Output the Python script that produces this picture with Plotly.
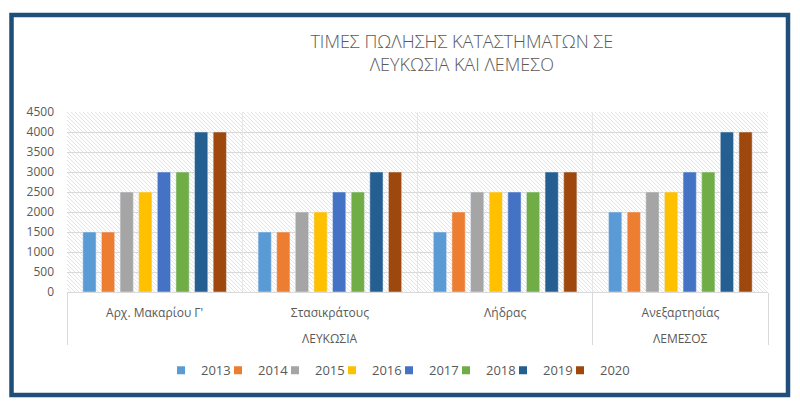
import base64
import plotly.graph_objects as go

# data
regions = ["ΛΕΥΚΩΣΙΑ", "ΛΕΥΚΩΣΙΑ", "ΛΕΥΚΩΣΙΑ", "ΛΕΜΕΣΟΣ"]
streets = ["Αρχ. Μακαρίου Γ'", "Στασικράτους", "Λήδρας", "Ανεξαρτησίας"]
years = ["2013", "2014", "2015", "2016", "2017", "2018", "2019", "2020"]
prices = {
    "2013": [1500, 1500, 1500, 2000],
    "2014": [1500, 1500, 2000, 2000],
    "2015": [2500, 2000, 2500, 2500],
    "2016": [2500, 2000, 2500, 2500],
    "2017": [3000, 2500, 2500, 3000],
    "2018": [3000, 2500, 2500, 3000],
    "2019": [4000, 3000, 3000, 4000],
    "2020": [4000, 3000, 3000, 4000],
}
y_ticks = [0, 500, 1000, 1500, 2000, 2500, 3000, 3500, 4000, 4500]

colors = ["#5B9BD5", "#ED7D31", "#A5A5A5", "#FFC000",
          "#4472C4", "#70AD47", "#255E91", "#9E480E"]
TXT = "#595959"
GRID = "#d9d9d9"
FONT = "Open Sans"

# the page body adds an 8px margin, so the figure is 8px smaller
W, H = 792, 401
ML, MR, MT, MB = 59, 32, 104, 117
pw, ph = W - ML - MR, H - MT - MB

def px(v): return (v - ML) / pw
def py(v): return (H - MB - v) / ph

# region groups: centre of each group and the boundaries between groups
n = len(streets)
groups = []
for i, r in enumerate(regions):
    if not groups or groups[-1][0] != r:
        groups.append([r, []])
    groups[-1][1].append(i)
group_mid = [(g[0], sum(g[1]) / len(g[1])) for g in groups]
group_edges = [g[1][0] - 0.5 for g in groups] + [n - 0.5]
cat_edges = [i + 0.5 for i in range(n - 1)]

# legend: one small legend per year, laid out with a fixed stride
STRIDE = 57
LEG_X = 153
LEG_Y = -0.352

fig = go.Figure()
for i, (yr, col) in enumerate(zip(years, colors)):
    fig.add_trace(go.Bar(x=streets, y=prices[yr], name=yr,
                         marker_color=col, showlegend=False))
    lname = "legend" if i == 0 else "legend%d" % (i + 1)
    fig.add_trace(go.Scatter(x=[None], y=[None], xaxis="x2", mode="markers",
                             marker=dict(symbol="square", size=8, color=col),
                             name=yr, showlegend=True, legend=lname))
    fig.update_layout({lname: dict(
        orientation="h", x=px(LEG_X + i * STRIDE), xanchor="left",
        y=LEG_Y, yanchor="top", font=dict(size=13, color=TXT),
        itemwidth=30, bgcolor="rgba(0,0,0,0)", borderwidth=0)})

# empty trace so that the divider axis gets drawn
fig.add_trace(go.Scatter(x=[None], y=[None], xaxis="x3", showlegend=False,
                         hoverinfo="skip"))

# outer level of the category axis
for name, mid in group_mid:
    fig.add_annotation(text=name, x=mid, xref="x2", y=py(330), yref="paper",
                       yanchor="middle", showarrow=False,
                       font=dict(size=12, color=TXT))

# diagonal hatch behind the bars
svg = ("<svg xmlns='http://www.w3.org/2000/svg' width='701' height='180'>"
       "<defs><pattern id='h' width='4' height='4' patternUnits='userSpaceOnUse'>"
       "<path d='M0,0L4,4M-1,3L1,5M3,-1L5,1' stroke='#e4e4e4' stroke-width='1'/>"
       "</pattern></defs><rect width='701' height='180' fill='url(#h)'/></svg>")
hatch = "data:image/svg+xml;base64," + base64.b64encode(svg.encode()).decode()
fig.add_layout_image(source=hatch, xref="paper", yref="paper", x=0, y=1,
                     sizex=1, sizey=1, sizing="stretch", layer="below",
                     xanchor="left", yanchor="top")

# dark frame round the whole chart
fig.add_shape(type="rect", xref="paper", yref="paper",
              x0=px(3.5), x1=px(780), y0=py(387), y1=py(7),
              line=dict(color="#1F4E79", width=4.5), layer="above")

fig.update_layout(
    width=W, height=H,
    margin=dict(l=ML, r=MR, t=MT, b=MB),
    paper_bgcolor="white", plot_bgcolor="rgba(0,0,0,0)",
    font=dict(family=FONT, color=TXT, size=12),
    title=dict(text="ΤΙΜΕΣ ΠΩΛΗΣΗΣ ΚΑΤΑΣΤΗΜΑΤΩΝ ΣΕ<br>ΛΕΥΚΩΣΙΑ ΚΑΙ ΛΕΜΕΣΟ",
               x=0.573, xanchor="center", y=1 - 40 / H, yanchor="top",
               font=dict(family=FONT, size=18, color=TXT, weight=300)),
    barmode="group", bargap=0.15, bargroupgap=0.29,
    showlegend=True,
    xaxis=dict(type="category", showgrid=False, showline=True,
               linecolor=GRID, linewidth=1, ticks="", ticklabelstandoff=10,
               range=[-0.5, n - 0.5], tickfont=dict(size=12, color=TXT)),
    # faint gridlines between the streets
    xaxis2=dict(overlaying="x", range=[-0.5, n - 0.5], tickvals=cat_edges,
                showgrid=True, gridcolor="#e6e6e6", showticklabels=False,
                ticks="", zeroline=False, showline=False),
    # divider ticks between the regions, reaching down past both label rows
    xaxis3=dict(overlaying="x", range=[-0.5, n - 0.5], tickvals=group_edges,
                ticks="outside", ticklen=52, tickcolor=GRID, tickwidth=1,
                showgrid=False, showticklabels=False, zeroline=False,
                showline=False, side="bottom", anchor="y"),
    yaxis=dict(range=[0, 4500], tickvals=y_ticks, showgrid=True,
               gridcolor=GRID, zeroline=False, ticklabelstandoff=12,
               tickfont=dict(size=12, color=TXT)),
)

fig.write_html("out.html")
